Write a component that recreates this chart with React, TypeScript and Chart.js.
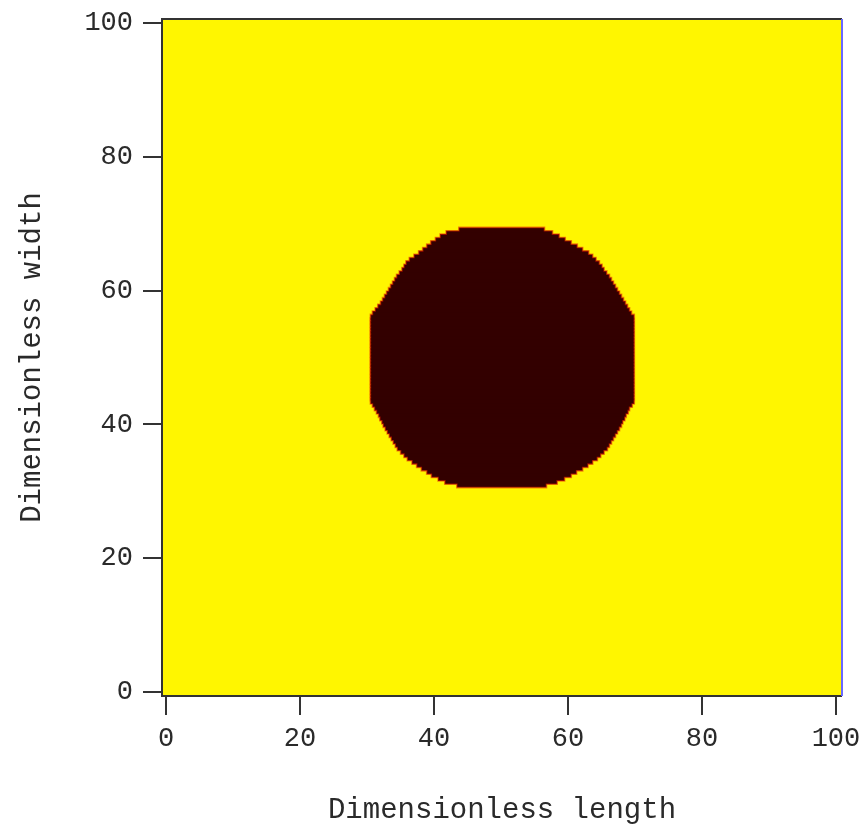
import React, { useEffect, useRef } from "react";
import { Chart, registerables } from "chart.js";

Chart.register(...registerables);

// Row centres (dimensionless width) of the dark region
const ROW_Y = [31, 31.5, 32, 32.5, 33, 33.5, 34, 34.5, 35, 35.5, 36, 36.5, 37, 37.5, 38, 38.5, 39, 39.5, 40, 40.5, 41, 41.5, 42, 42.5, 43, 43.5, 44, 44.5, 45, 45.5, 46, 46.5, 47, 47.5, 48, 48.5, 49, 49.5, 50, 50.5, 51, 51.5, 52, 52.5, 53, 53.5, 54, 54.5, 55, 55.5, 56, 56.5, 57, 57.5, 58, 58.5, 59, 59.5, 60, 60.5, 61, 61.5, 62, 62.5, 63, 63.5, 64, 64.5, 65, 65.5, 66, 66.5, 67, 67.5, 68, 68.5, 69];

// Left boundary (dimensionless length) of the dark region for each row
const LEFT_X = [43.6, 41.8, 40.8, 39.8, 39.1, 38.3, 37.6, 36.9, 36.2, 35.7, 35.2, 34.7, 34.4, 34.1, 33.8, 33.5, 33.2, 32.9, 32.6, 32.4, 32.1, 31.9, 31.6, 31.3, 31.0, 30.7,
  30.7, 30.7, 30.7, 30.7, 30.7, 30.7, 30.7, 30.7, 30.7, 30.7, 30.7, 30.7, 30.7, 30.7, 30.7, 30.7, 30.7, 30.7, 30.7, 30.7, 30.7, 30.7, 30.7, 30.7, 30.7,
  31.0, 31.4, 31.8, 32.2, 32.5, 32.8, 33.1, 33.4, 33.7, 34.0, 34.3, 34.6, 35.0, 35.4, 35.7, 36.0, 36.5, 37.2, 37.9, 38.5, 39.1, 39.7, 40.4, 41.1, 42.0, 43.9];

// Right boundary of the dark region for each row
const RIGHT_X = [56.6, 58.2, 59.3, 60.3, 61.1, 62.0, 62.8, 63.5, 64.2, 64.7, 65.2, 65.7, 66.0, 66.3, 66.6, 66.9, 67.2, 67.5, 67.8, 68.0, 68.3, 68.5, 68.8, 69.0, 69.4, 69.7,
  69.7, 69.7, 69.7, 69.7, 69.7, 69.7, 69.7, 69.7, 69.7, 69.7, 69.7, 69.7, 69.7, 69.7, 69.7, 69.7, 69.7, 69.7, 69.7, 69.7, 69.7, 69.7, 69.7, 69.7, 69.7,
  69.3, 69.0, 68.7, 68.4, 68.1, 67.8, 67.5, 67.2, 66.9, 66.6, 66.3, 66.0, 65.6, 65.2, 64.9, 64.5, 64.0, 63.5, 62.9, 62.0, 61.2, 60.3, 59.4, 58.5, 57.5, 56.3];

const X_TICKS = [0, 20, 40, 60, 80, 100];
const Y_TICKS = [0, 20, 40, 60, 80, 100];

const X_TITLE = "Dimensionless length";
const Y_TITLE = "Dimensionless width";

const FONT = "'Liberation Mono', 'DejaVu Sans Mono', monospace";
const TEXT = "#2a2a2a";
const LOW = "#fff600";
const HIGH = "#330000";
const RIM_RED = "#9c0c00";
const RIM_ORANGE = "#f28a00";

const fieldBackground = {
  id: "fieldBackground",
  beforeDatasetsDraw(chart: any) {
    const { ctx, chartArea: a } = chart;
    ctx.save();
    ctx.fillStyle = LOW;
    ctx.fillRect(a.left, a.top, a.right - a.left, a.bottom - a.top);
    ctx.restore();
  },
};

const frame = {
  id: "frame",
  afterDatasetsDraw(chart: any) {
    const { ctx, chartArea: a } = chart;
    ctx.save();
    ctx.lineWidth = 2;
    ctx.strokeStyle = "#333333";
    ctx.beginPath();
    ctx.moveTo(a.right, a.top);
    ctx.lineTo(a.left, a.top);
    ctx.lineTo(a.left, a.bottom);
    ctx.lineTo(a.right, a.bottom);
    ctx.stroke();
    ctx.strokeStyle = "#6a6aff";
    ctx.beginPath();
    ctx.moveTo(a.right, a.top);
    ctx.lineTo(a.right, a.bottom);
    ctx.stroke();
    ctx.restore();
  },
};

export default function App() {
  const ref = useRef<HTMLCanvasElement | null>(null);

  useEffect(() => {
    document.body.style.margin = "0";
    const canvas = ref.current;
    if (!canvas) return;
    const rows = ROW_Y.map((y, i) => ({ x: [LEFT_X[i], RIGHT_X[i]], y }));
    const common = {
      barPercentage: 1,
      categoryPercentage: 1,
      grouped: false,
      borderWidth: 0,
    };
    const chart = new Chart(canvas, {
      type: "bar",
      data: {
        datasets: [
          { label: "core", data: rows as any, backgroundColor: HIGH, inflateAmount: 0.5, ...common } as any,
          { label: "edge", data: rows as any, backgroundColor: RIM_RED, inflateAmount: 1.3, ...common } as any,
          { label: "halo", data: rows as any, backgroundColor: RIM_ORANGE, inflateAmount: 2.1, ...common } as any,
        ],
      },
      options: {
        indexAxis: "y",
        animation: false,
        responsive: true,
        maintainAspectRatio: false,
        layout: { padding: { left: 0, top: 19, right: 25, bottom: 0 } },
        plugins: {
          legend: { display: false },
          tooltip: { enabled: false },
        },
        scales: {
          x: {
            type: "linear",
            min: -0.6,
            max: 100.9,
            offset: false,
            afterBuildTicks: (s: any) => {
              s.ticks = X_TICKS.map((v) => ({ value: v }));
            },
            afterFit: (s: any) => {
              s.height = 133;
              s.paddingLeft = 0;
              s.paddingRight = 0;
            },
            border: { display: false },
            grid: {
              display: true,
              drawOnChartArea: false,
              drawTicks: true,
              tickLength: 19,
              color: "#333333",
              lineWidth: 2,
              offset: false,
            },
            ticks: {
              autoSkip: false,
              maxRotation: 0,
              padding: 8,
              color: TEXT,
              font: { family: FONT, size: 27 },
              callback: (v: any) => String(v),
            },
            title: {
              display: true,
              text: X_TITLE,
              color: TEXT,
              font: { family: FONT, size: 29 },
              padding: { top: 0, bottom: 1 },
            },
          },
          y: {
            type: "linear",
            min: -0.6,
            max: 100.6,
            offset: false,
            afterBuildTicks: (s: any) => {
              s.ticks = Y_TICKS.map((v) => ({ value: v }));
            },
            afterFit: (s: any) => {
              s.width = 162;
              s.paddingTop = 0;
              s.paddingBottom = 0;
            },
            border: { display: false },
            grid: {
              display: true,
              drawOnChartArea: false,
              drawTicks: true,
              tickLength: 19,
              color: "#333333",
              lineWidth: 2,
              offset: false,
            },
            ticks: {
              autoSkip: false,
              padding: 10,
              color: TEXT,
              font: { family: FONT, size: 27 },
              callback: (v: any) => String(v),
            },
            title: {
              display: true,
              text: Y_TITLE,
              color: TEXT,
              font: { family: FONT, size: 29 },
              padding: { top: 15, bottom: 0 },
            },
          },
        },
      },
      plugins: [fieldBackground, frame],
    } as any);
    return () => chart.destroy();
  }, []);

  return (
    <div style={{ width: 867, height: 829, position: "relative", overflow: "hidden" }}>
      <canvas ref={ref} style={{ display: "block" }} />
    </div>
  );
}
